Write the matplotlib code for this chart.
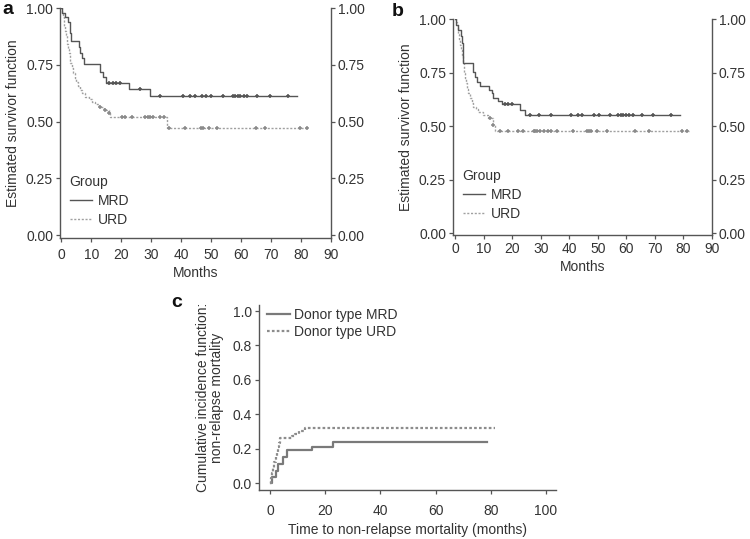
import matplotlib
matplotlib.use("Agg")
import matplotlib.pyplot as plt
from matplotlib.lines import Line2D

plt.rcParams['font.family'] = ['Liberation Sans', 'DejaVu Sans']

# ---------------- Panel a (Kaplan-Meier) ----------------
a_mrd_t = [0, 0.2, 1.3, 2.2, 2.7, 3.0, 3.3, 5.8, 6.3, 6.9, 7.4, 13.0, 13.9, 14.9, 22.4, 29.4, 78.8]
a_mrd_s = [1.0, 0.979, 0.962, 0.94, 0.918, 0.888, 0.856, 0.83, 0.80, 0.778, 0.753, 0.72, 0.698, 0.668, 0.642, 0.614, 0.614]
a_mrd_cens = [16.0, 17.2, 18.3, 19.4, 26.3, 33.0, 40.7, 42.8, 44.6, 46.9, 48.4, 49.8, 54.1, 57.2, 58.0, 58.8, 59.7, 60.8, 62.1, 65.2, 69.8, 75.8]

a_urd_t = [0, 0.2, 0.5, 0.8, 1.0, 1.3, 1.5, 1.8, 2.0, 2.3, 2.5, 2.8, 3.0, 3.5, 4.0, 4.5, 5.0, 5.6, 6.3, 7.0, 8.0, 9.2, 10.2, 11.3, 12.4, 14.1, 15.8, 16.3, 35.3, 82.3]
a_urd_s = [1.0, 0.98, 0.96, 0.94, 0.92, 0.90, 0.88, 0.86, 0.84, 0.82, 0.80, 0.78, 0.756, 0.735, 0.715, 0.694, 0.675, 0.657, 0.639, 0.624, 0.609, 0.598, 0.587, 0.576, 0.565, 0.551, 0.537, 0.518, 0.471, 0.471]
a_urd_cens = [13.0, 14.5, 16.0, 20.2, 21.3, 23.6, 28.0, 28.8, 29.7, 30.6, 33.0, 34.3, 35.8, 41.3, 46.6, 47.2, 49.1, 52.1, 65.0, 68.0, 79.7, 81.9]

# ---------------- Panel b (Kaplan-Meier) ----------------
b_mrd_t = [0, 0.35, 1.2, 2.0, 2.6, 2.9, 6.2, 7.0, 7.6, 8.8, 12.0, 12.9, 13.4, 15.2, 16.4, 22.8, 24.5, 78.9]
b_mrd_s = [1.0, 0.972, 0.949, 0.92, 0.886, 0.793, 0.754, 0.73, 0.707, 0.687, 0.668, 0.653, 0.629, 0.618, 0.603, 0.575, 0.551, 0.551]
b_mrd_cens = [17.5, 18.7, 19.9, 26.3, 29.5, 33.6, 40.6, 43.0, 44.6, 48.7, 50.4, 54.2, 57.2, 58.1, 59.0, 59.9, 61.1, 62.4, 65.5, 69.5, 75.5]

b_urd_t = [0, 0.3, 0.6, 0.9, 1.2, 1.5, 1.8, 2.1, 2.4, 2.7, 3.0, 3.3, 3.6, 3.9, 4.3, 4.7, 5.2, 5.8, 6.4, 7.2, 8.2, 9.9, 11.7, 13.2, 14.0, 81.8]
b_urd_s = [1.0, 0.985, 0.97, 0.95, 0.93, 0.905, 0.88, 0.855, 0.83, 0.80, 0.775, 0.75, 0.725, 0.70, 0.675, 0.653, 0.63, 0.61, 0.59, 0.578, 0.567, 0.551, 0.536, 0.505, 0.478, 0.478]
b_urd_cens = [12.2, 13.4, 15.8, 18.7, 22.2, 23.7, 27.5, 28.1, 28.6, 29.6, 31.0, 32.7, 33.5, 35.6, 41.5, 46.2, 47.0, 47.6, 49.7, 53.2, 63.1, 67.8, 79.5, 81.2]

# ---------------- Panel c (cumulative incidence) ----------------
c_mrd_t = [0.25, 0.6, 2.2, 3.0, 4.8, 6.3, 15.3, 22.9, 78.5]
c_mrd_v = [0.0, 0.037, 0.07, 0.11, 0.149, 0.19, 0.212, 0.237, 0.237]
c_urd_t = [0.0, 0.4, 0.8, 1.2, 1.6, 2.0, 2.4, 2.8, 3.2, 3.6, 8.0, 9.0, 10.5, 12.7, 81.5]
c_urd_v = [0.0, 0.03, 0.06, 0.09, 0.12, 0.15, 0.18, 0.21, 0.235, 0.26, 0.272, 0.285, 0.30, 0.322, 0.322]

km_ticks_y = [0.0, 0.25, 0.5, 0.75, 1.0]
km_ticks_y_lab = ['0.00', '0.25', '0.50', '0.75', '1.00']
km_ticks_x = list(range(0, 91, 10))
c_ticks_y = [0.0, 0.2, 0.4, 0.6, 0.8, 1.0]
c_ticks_y_lab = ['0.0', '0.2', '0.4', '0.6', '0.8', '1.0']
c_ticks_x = [0, 20, 40, 60, 80, 100]

MRD_COL = '#555555'
URD_COL = '#a0a0a0'
MARK_URD = '#8a8a8a'
AX_COL = '#555555'
TXT_COL = '#333333'
FS = 10

fig = plt.figure(figsize=(7.5, 5.39), dpi=100)


def step_value(ts, ss, x):
    v = ss[0]
    for t, s in zip(ts, ss):
        if t <= x:
            v = s
    return v


def km_panel(rect, xlim, ylim, mrd, urd, letter, letter_pos, leg_anchor, xpad):
    ax = fig.add_axes(rect)
    for (t, s, cens), col, mcol, ls in ((urd, URD_COL, MARK_URD, (0, (1.5, 1.2))),
                                        (mrd, MRD_COL, MRD_COL, '-')):
        ax.plot(t, s, drawstyle='steps-post', color=col, lw=1.0, ls=ls)
        cy = [step_value(t, s, c) for c in cens]
        ax.plot(cens, cy, ls='none', marker='+', ms=3.2, mew=1.1, color=mcol)
    ax.set_xlim(*xlim)
    ax.set_ylim(*ylim)
    ax.set_xticks(km_ticks_x)
    ax.set_yticks(km_ticks_y)
    ax.set_yticklabels(km_ticks_y_lab)
    ax.spines['top'].set_visible(False)
    for sp in ('left', 'right', 'bottom'):
        ax.spines[sp].set_color(AX_COL)
        ax.spines[sp].set_linewidth(1.0)
    ax.tick_params(axis='both', direction='out', length=3, width=0.9, color=AX_COL,
                   labelsize=FS, labelcolor=TXT_COL, pad=2)
    ax.tick_params(axis='x', pad=xpad)
    ax.tick_params(axis='y', right=True, labelright=True)
    ax.set_xlabel('Months', fontsize=FS, color=TXT_COL, labelpad=3)
    ax.set_ylabel('Estimated survivor function', fontsize=FS, color=TXT_COL, labelpad=4)
    handles = [Line2D([], [], color=MRD_COL, lw=1.0),
               Line2D([], [], color=URD_COL, lw=1.0, ls=(0, (1.5, 1.2)))]
    leg = ax.legend(handles, ['MRD', 'URD'], title='Group', loc='lower left',
                    bbox_to_anchor=leg_anchor, frameon=False, fontsize=FS,
                    title_fontsize=FS, handlelength=1.6, handletextpad=0.4,
                    labelspacing=0.35, alignment='left', borderaxespad=0.3)
    for t in leg.get_texts():
        t.set_color(TXT_COL)
    leg.get_title().set_color(TXT_COL)
    fig.text(letter_pos[0], letter_pos[1], letter, fontsize=14, fontweight='bold',
             ha='left', va='top', color='#111111')
    return ax


km_panel([0.08, 0.5584, 0.3613, 0.4267], (-0.5, 90), (-0.013, 1.0),
         (a_mrd_t, a_mrd_s, a_mrd_cens), (a_urd_t, a_urd_s, a_urd_cens),
         'a', (2 / 750, 1 - 1 / 539), (0.0, 0.005), 4)
km_panel([0.604, 0.564, 0.3453, 0.4007], (-0.7, 90), (-0.009, 1.0),
         (b_mrd_t, b_mrd_s, b_mrd_cens), (b_urd_t, b_urd_s, b_urd_cens),
         'b', (392 / 750, 1 - 3 / 539), (0.0, 0.02), 2)

# Panel c
axc = fig.add_axes([0.3453, 0.0909, 0.396, 0.3432])
axc.plot(c_mrd_t, c_mrd_v, drawstyle='steps-post', color='#7a7a7a', lw=1.6, ls='-')
axc.plot(c_urd_t, c_urd_v, drawstyle='steps-post', color='#8c8c8c', lw=1.6, ls=(0, (1.2, 1.0)))
axc.set_xlim(-4, 103.6)
axc.set_ylim(-0.04, 1.035)
axc.set_xticks(c_ticks_x)
axc.set_yticks(c_ticks_y)
axc.set_yticklabels(c_ticks_y_lab)
for sp in ('top', 'right'):
    axc.spines[sp].set_visible(False)
for sp in ('left', 'bottom'):
    axc.spines[sp].set_color(AX_COL)
    axc.spines[sp].set_linewidth(1.0)
axc.tick_params(axis='both', direction='out', length=3, width=0.9, color=AX_COL,
                labelsize=FS, labelcolor=TXT_COL, pad=2)
axc.tick_params(axis='x', pad=7)
axc.set_xlabel('Time to non-relapse mortality (months)', fontsize=FS, color=TXT_COL, labelpad=4)
axc.set_ylabel('Cumulative incidence function:\nnon-relapse mortality', fontsize=FS,
               color=TXT_COL, labelpad=6, linespacing=1.0)
hc = [Line2D([], [], color='#7a7a7a', lw=1.6),
      Line2D([], [], color='#8c8c8c', lw=1.6, ls=(0, (1.2, 1.0)))]
legc = axc.legend(hc, ['Donor type MRD', 'Donor type URD'], loc='upper left',
                  bbox_to_anchor=(0.0, 1.03), frameon=False, fontsize=FS,
                  handlelength=1.6, handletextpad=0.3, labelspacing=0.2, borderaxespad=0.2)
for t in legc.get_texts():
    t.set_color(TXT_COL)
fig.text(171 / 750, 1 - 294 / 539, 'c', fontsize=14, fontweight='bold',
         ha='left', va='top', color='#111111')

fig.savefig('out.png', dpi=100)
